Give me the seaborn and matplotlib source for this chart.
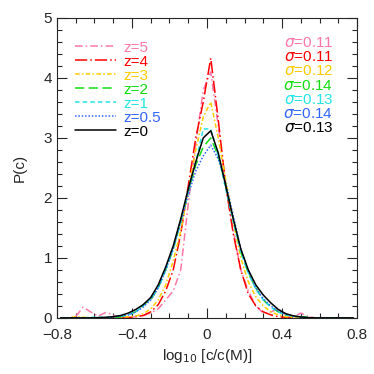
import matplotlib
matplotlib.use("Agg")
import matplotlib.pyplot as plt
import numpy as np
import pandas as pd
import seaborn as sns
from matplotlib.ticker import MultipleLocator, FixedLocator

# bin centres of log10 [c/c(M)]
x_bins = [round(-0.78 + 0.04 * i, 2) for i in range(40)]

z_labels = ["5", "4", "3", "2", "1", "0.5", "0"]
sigma_labels = ["0.11", "0.11", "0.12", "0.14", "0.13", "0.14", "0.13"]
colors = ["#ff77aa", "#ff0000", "#ffcc00", "#11dd11", "#22e5e5", "#3366ff", "#000000"]

# P(c) for each redshift (40 bins from -0.78 to 0.78)
p_z5 = [0, 0, 0.02, 0.18, 0.10, 0.03, 0.09, 0.05, 0.0, 0.01,
        0.02, 0.04, 0.08, 0.15, 0.30, 0.45, 0.80, 1.90, 2.90, 3.80,
        4.10, 3.20, 2.20, 1.45, 0.80, 0.45, 0.20, 0.08, 0.10, 0.15,
        0.05, 0.02, 0.08, 0.02, 0, 0, 0, 0, 0, 0]
p_z4 = [0, 0, 0, 0, 0, 0, 0, 0, 0, 0,
        0.02, 0.04, 0.10, 0.22, 0.45, 0.80, 1.40, 2.20, 3.00, 3.60,
        4.33, 3.30, 2.20, 1.40, 0.80, 0.40, 0.20, 0.10, 0.05, 0.02,
        0.01, 0, 0, 0, 0, 0, 0, 0, 0, 0]
p_z3 = [0, 0, 0.02, 0.01, 0, 0, 0, 0, 0.01, 0.02,
        0.03, 0.07, 0.15, 0.30, 0.55, 0.95, 1.45, 2.10, 2.80, 3.35,
        3.60, 3.00, 2.30, 1.60, 1.00, 0.60, 0.35, 0.20, 0.10, 0.05,
        0.02, 0.01, 0, 0, 0, 0, 0, 0, 0, 0]
p_z2 = [0, 0, 0, 0, 0, 0, 0, 0, 0.02, 0.05,
        0.10, 0.22, 0.30, 0.50, 0.80, 1.15, 1.60, 2.10, 2.55, 2.85,
        3.00, 2.70, 2.20, 1.65, 1.10, 0.75, 0.50, 0.30, 0.18, 0.10,
        0.05, 0.03, 0.02, 0.01, 0, 0, 0, 0, 0, 0]
p_z1 = [0, 0, 0, 0, 0.01, 0.01, 0.01, 0.02, 0.03, 0.05,
        0.10, 0.20, 0.32, 0.50, 0.80, 1.15, 1.60, 2.10, 2.60, 3.15,
        3.15, 2.70, 2.15, 1.60, 1.10, 0.75, 0.48, 0.30, 0.18, 0.10,
        0.05, 0.03, 0.01, 0, 0, 0, 0, 0, 0, 0]
p_z05 = [0, 0, 0, 0, 0, 0, 0, 0.015, 0.03, 0.05,
         0.10, 0.18, 0.30, 0.50, 0.80, 1.15, 1.60, 2.05, 2.45, 2.70,
         2.88, 2.65, 2.25, 1.70, 1.15, 0.78, 0.50, 0.32, 0.20, 0.11,
         0.06, 0.03, 0.015, 0, 0, 0, 0, 0, 0, 0]
p_z0 = [0, 0, 0, 0, 0, 0.005, 0.01, 0.02, 0.04, 0.08,
        0.14, 0.22, 0.34, 0.55, 0.85, 1.20, 1.65, 2.15, 2.60, 3.00,
        3.12, 2.75, 2.20, 1.65, 1.15, 0.80, 0.55, 0.38, 0.25, 0.14,
        0.07, 0.035, 0.015, 0.005, 0, 0, 0, 0, 0, 0]

series = [p_z5, p_z4, p_z3, p_z2, p_z1, p_z05, p_z0]

rows = []
for z, vals in zip(z_labels, series):
    for xv, pv in zip(x_bins, vals):
        rows.append({"x": xv, "P": pv, "z": z})
df = pd.DataFrame(rows)

sns.set_style("ticks")
plt.rcParams["font.family"] = ["Liberation Sans", "DejaVu Sans"]
plt.rcParams["font.size"] = 11

fig = plt.figure(figsize=(3.74, 3.74), dpi=100)
ax = fig.add_axes([0.152, 0.150, 0.803, 0.802])

dashes = {"5": (5, 2, 1, 2), "4": (8, 2, 1, 2), "3": (3, 1.5, 1, 1.5),
          "2": (6, 3), "1": (3, 2), "0.5": (1, 1.2), "0": ""}
sns.lineplot(data=df, x="x", y="P", hue="z", style="z", hue_order=z_labels,
             style_order=z_labels, palette=colors, dashes=dashes,
             linewidth=1.1, ax=ax, legend=False, estimator=None)

ax.set_xlim(-0.8, 0.8)
ax.set_ylim(0, 5)
ax.xaxis.set_major_locator(FixedLocator([-0.8, -0.4, 0, 0.4, 0.8]))
ax.set_xticklabels(["\u22120.8", "\u22120.4", "0", "0.4", "0.8"])
ax.xaxis.set_minor_locator(MultipleLocator(0.1))
ax.yaxis.set_major_locator(MultipleLocator(1))
ax.yaxis.set_minor_locator(MultipleLocator(0.2))
ax.tick_params(which="both", direction="in", top=True, right=True, width=0.8)
ax.tick_params(which="major", length=7, labelsize=11)
ax.tick_params(axis="x", which="major", pad=7)
ax.tick_params(which="minor", length=3.5)
for s in ax.spines.values():
    s.set_linewidth(0.8)

ax.set_xlabel(r"log$_{10}$ [c/c(M)]", fontsize=11, labelpad=4)
ax.set_ylabel("P(c)", fontsize=11, labelpad=12)

handles = ax.get_lines()[:len(z_labels)]
leg = ax.legend(handles, ["z=" + z for z in z_labels], loc="upper left",
                frameon=False, handlelength=2.7, labelspacing=0.0,
                handletextpad=0.45, borderaxespad=0.0, fontsize=11,
                labelcolor="linecolor", bbox_to_anchor=(0.04, 0.945))

for i, (sg, c) in enumerate(zip(sigma_labels, colors)):
    ax.text(0.92, 0.917 - i * 0.0475, r"$\sigma$=" + sg, color=c,
            transform=ax.transAxes, ha="right", va="center", fontsize=11)

fig.savefig("out.png", dpi=100)
